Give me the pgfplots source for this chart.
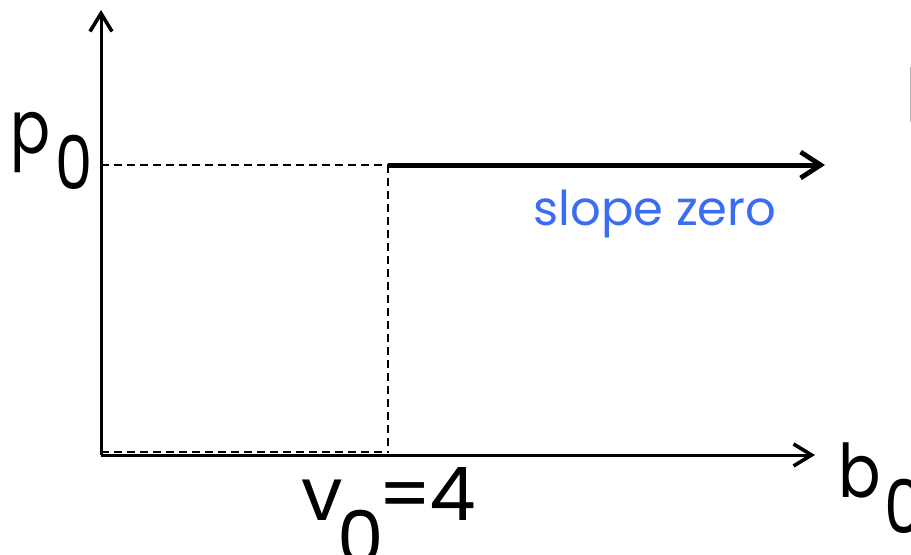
\documentclass[border=0pt]{standalone}
\usepackage{fontspec}
\setmainfont{Poppins}
\usepackage{pgfplots}
\pgfplotsset{compat=1.18}
\usetikzlibrary{arrows.meta}
\definecolor{slopeblue}{RGB}{59,108,245}
\begin{document}
\begin{tikzpicture}[x=0.5pt,y=0.5pt]
\path[use as bounding box] (0,0) rectangle (911,554);
\clip (0,0) rectangle (911,554);
\begin{axis}[
  at={(101*0.5pt,99*0.5pt)}, anchor=south west,
  scale only axis, width=357pt, height=222.5pt,
  xmin=0, xmax=714, ymin=0, ymax=445,
  axis lines=none, clip=false,
]
% axes
\addplot[line width=1.5pt, -{Straight Barb[length=9pt,width=11pt,line width=1.8pt]}] coordinates {(0,0) (714,0)};
\addplot[line width=1.5pt, -{Straight Barb[length=9pt,width=11pt,line width=1.8pt]}] coordinates {(0,0) (0,445)};
% dashed guides
\addplot[line width=0.75pt, dash pattern=on 4pt off 2.5pt] coordinates {(0,290) (287,290)};
\addplot[line width=0.75pt, dash pattern=on 4pt off 2.5pt] coordinates {(287,290) (287,2)};
\addplot[line width=0.75pt, dash pattern=on 4pt off 2.5pt] coordinates {(0,3) (287,3)};
% slope-zero segment
\addplot[line width=2.5pt, -{Straight Barb[length=10pt,width=13pt,line width=2.4pt]}] coordinates {(287,290) (724,290)};
% labels
\node[anchor=base west, inner sep=0pt, font=\fontsize{37}{40}\selectfont] at (axis cs:-91,302) {\scalebox{0.8}[1]{p}\hspace{2.5pt}\raisebox{-18pt}{\scalebox{0.8}[1]{0}}};
\node[anchor=base west, inner sep=0pt, font=\fontsize{37}{40}\selectfont] at (axis cs:200,-65) {v\hspace{-2.5pt}\raisebox{-22pt}{0}\hspace{-3pt}=\hspace{-1pt}4};
\node[anchor=base west, inner sep=0pt, font=\fontsize{37}{40}\selectfont] at (axis cs:737,-42) {\scalebox{0.85}[1]{b}\hspace{2pt}\raisebox{-18pt}{\scalebox{0.85}[1]{0}}};
\node[anchor=base, inner sep=0pt, text=slopeblue, font=\fontsize{24}{28}\selectfont] at (axis cs:554,230) {slope zero};
\node[anchor=base west, inner sep=0pt, font=\fontsize{37}{40}\selectfont] at (axis cs:804,333) {l};
\end{axis}
\end{tikzpicture}
\end{document}
